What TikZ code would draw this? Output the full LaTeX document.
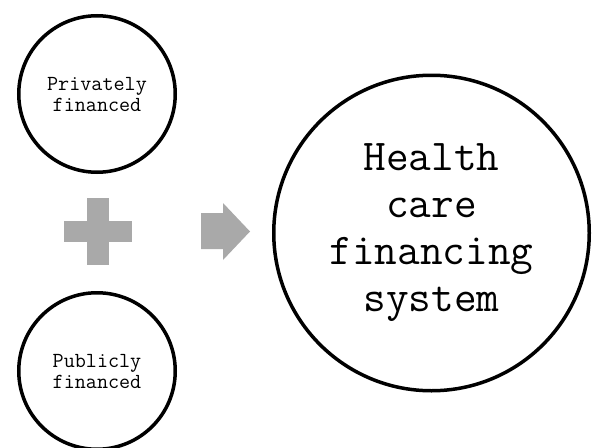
\documentclass[tikz,border=0pt]{standalone}
\usepackage{tikz}
\usetikzlibrary{calc}

\definecolor{signgray}{HTML}{A9A9A9}

\tikzset{
    bubble/.style={circle, draw=black, line width=3.5pt, inner sep=0pt, align=center, font=\ttfamily},
    smallbubble/.style={bubble, minimum size=156.5pt, font=\ttfamily\fontsize{21.5}{21}\selectfont},
    bigbubble/.style={bubble, minimum size=315.5pt, font=\ttfamily\fontsize{44}{47}\selectfont}
}

\begin{document}
\begin{tikzpicture}[x=1pt, y=-1pt]
            \useasboundingbox (0,0) rectangle (594,447);

            % Draw the two source circles
            \node[smallbubble] (priv) at (97,94) {Privately\\financed};
            \node[smallbubble] (publ) at (97,371) {Publicly\\financed};

            % Draw the target circle
            \node[bigbubble] (hcfs) at (431.5,233) {Health\\care\\financing\\system};

            % Draw the plus sign
            \coordinate (P) at (98,231.5);
            \fill[signgray] ($(P)+(-34,-10.5)$) rectangle ($(P)+(34,10.5)$);
            \fill[signgray] ($(P)+(-11,-33.5)$) rectangle ($(P)+(11,33.5)$);

            % Draw the block arrow
            \fill[signgray] (201,213) -- (223,213) -- (223,203) -- (250,231.5)
                -- (223,260) -- (223,249) -- (201,249) -- cycle;

        \end{tikzpicture}
\end{document}
